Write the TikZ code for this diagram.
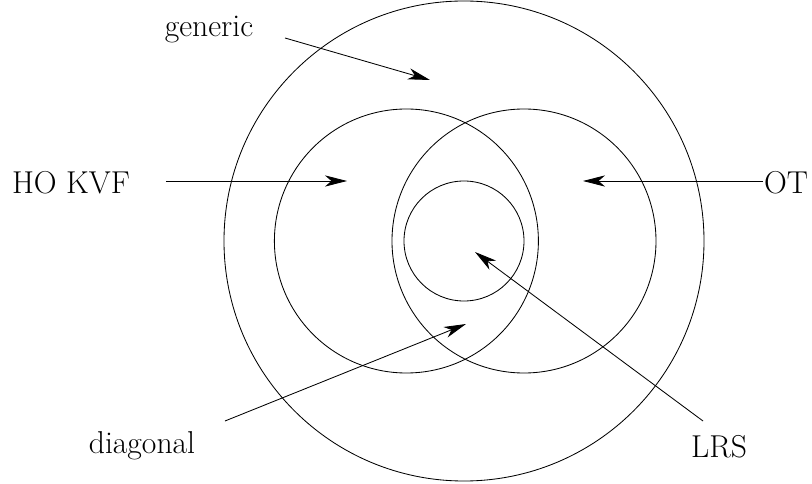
\documentclass[tikz,border=0pt]{standalone}
\usepackage{tikz}
\usetikzlibrary{arrows.meta}

\tikzset{
    lbl/.style={anchor=base, inner sep=0pt, font=\fontsize{22.5}{27}\selectfont},
    ptr/.style={-{Stealth[length=5.5mm, width=2.8mm, inset=1.6mm]}, line width=0.6pt}
}

\begin{document}
\begin{tikzpicture}[line width=0.6pt]
    \useasboundingbox (-11.6,-6.075) rectangle (8.7,6.025);

    % Circles
    \coordinate (O) at (0,0);
    \coordinate (L) at (-1.44,0);
    \coordinate (R) at (1.5,0);
    \draw (O) circle (6);
    \draw (L) circle (3.3);
    \draw (R) circle (3.3);
    \draw (O) circle (1.5);

    % Labels
    \node[lbl] (generic) at (-6.375, 5.1) {generic};
    \node[lbl] (hokvf) at (-9.825, 1.175) {HO KVF};
    \node[lbl] (ot) at (8.05, 1.175) {OT};
    \node[lbl] (diagonal) at (-8.05, -5.3) {diagonal};
    \node[lbl] (lrs) at (6.375, -5.4) {LRS};

    % Arrow ends
    \coordinate (gS) at (-4.475, 5.075);
    \coordinate (gT) at (-0.85, 4.025);
    \coordinate (hS) at (-7.45, 1.5);
    \coordinate (hT) at (-2.925, 1.5);
    \coordinate (oS) at (7.475, 1.5);
    \coordinate (oT) at (2.975, 1.5);
    \coordinate (dS) at (-5.975, -4.5);
    \coordinate (dT) at (0.05, -2.075);
    \coordinate (lS) at (5.975, -4.5);
    \coordinate (lT) at (0.275, -0.275);

    % Arrows
    \draw[ptr] (gS) -- (gT);
    \draw[ptr] (hS) -- (hT);
    \draw[ptr] (oS) -- (oT);
    \draw[ptr] (dS) -- (dT);
    \draw[ptr] (lS) -- (lT);
\end{tikzpicture}
\end{document}
